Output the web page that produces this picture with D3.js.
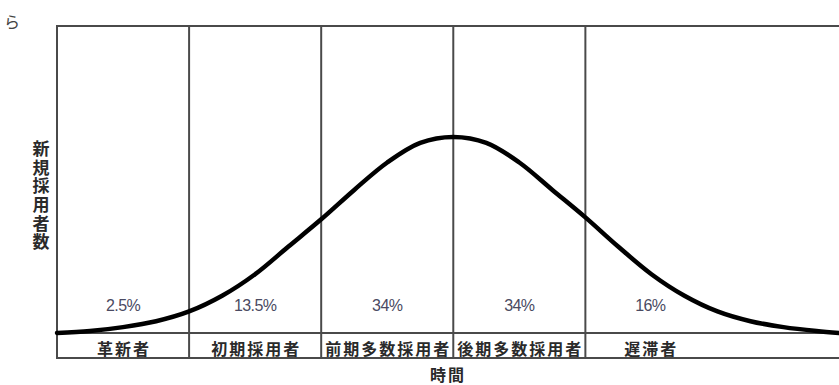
<!DOCTYPE html>
<html>
<head>
<meta charset="utf-8">
<script src="https://cdn.jsdelivr.net/npm/d3@7"></script>
<style>
  body { margin: 0; background: #fff; }
  svg { display: block; }
</style>
</head>
<body>
<script>
var w = 839;
var h = 385;

// adopter groups, left to right
var categories = ["革新者", "初期採用者", "前期多数採用者", "後期多数採用者", "遅滞者"];
var shares = ["2.5%", "13.5%", "34%", "34%", "16%"];
// group boundaries, in standard deviations from the mean
var boundaries = [-2, -1, 0, 1];

// curve: position (sd) and height (% of peak)
var curveX = [-3, -2.75, -2.5, -2.25, -2, -1.75, -1.5, -1.25, -1, -0.75, -0.5, -0.25, 0,
              0.25, 0.5, 0.75, 1, 1.25, 1.5, 1.75, 2, 2.25, 2.5, 2.75, 2.92];
var curveY = [0, 1, 3, 6, 11, 19, 30, 44, 58, 73, 87, 97, 100,
              97, 87, 73, 59, 44, 30, 19, 11, 6, 3, 1, 0];

var leftX = 57, rightX = 839, topY = 26, baseY = 333, bottomY = 358;

var xScale = d3.scaleLinear()
    .domain([-3, 2.92])
    .range([leftX, rightX]);

var yScale = d3.scaleLinear()
    .domain([0, 100])
    .range([baseY, 137]);

var svg = d3.select("body")
    .append("svg")
    .attr("width", w)
    .attr("height", h);

var frame = "#4a4a4a";

// frame lines
[topY, baseY, bottomY].forEach(function(y) {
    svg.append("line").attr("x1", leftX - 1).attr("x2", rightX).attr("y1", y).attr("y2", y)
        .attr("stroke", frame).attr("stroke-width", 2);
});
svg.append("line").attr("x1", leftX).attr("x2", leftX).attr("y1", topY - 1).attr("y2", bottomY + 1)
    .attr("stroke", frame).attr("stroke-width", 2);

svg.selectAll("line.div")
    .data(boundaries)
    .enter()
    .append("line")
    .attr("class", "div")
    .attr("x1", function(d) { return xScale(d); })
    .attr("x2", function(d) { return xScale(d); })
    .attr("y1", topY)
    .attr("y2", bottomY)
    .attr("stroke", frame)
    .attr("stroke-width", 2);

// centre of each group column
var edges = [xScale(-3)].concat(boundaries.map(function(d) { return xScale(d); })).concat([xScale(1) + 130]);
function mid(i) { return (edges[i] + edges[i + 1]) / 2; }

var pts = curveX.map(function(d, i) { return [d, curveY[i]]; });
var line = d3.line()
    .x(function(d) { return xScale(d[0]); })
    .y(function(d) { return yScale(d[1]); })
    .curve(d3.curveCatmullRom);

svg.append("path")
    .datum(pts)
    .attr("d", line)
    .attr("fill", "none")
    .attr("stroke", "#000")
    .attr("stroke-width", 4.5)
    .attr("stroke-linecap", "round");

svg.selectAll("text.share")
    .data(shares)
    .enter()
    .append("text")
    .attr("class", "share")
    .text(function(d) { return d; })
    .attr("x", function(d, i) { return mid(i); })
    .attr("y", 311)
    .attr("text-anchor", "middle")
    .attr("font-family", "Liberation Sans, Arial, sans-serif")
    .attr("font-size", "16px")
    .attr("letter-spacing", "-0.6px")
    .attr("fill", "#4a4a62");

svg.selectAll("text.cat")
    .data(categories)
    .enter()
    .append("text")
    .attr("class", "cat")
    .text(function(d) { return d; })
    .attr("x", function(d, i) { return mid(i) + 1; })
    .attr("y", 355)
    .attr("text-anchor", "middle")
    .attr("font-family", "Noto Sans CJK JP, sans-serif")
    .attr("font-size", "16px")
    .attr("letter-spacing", "2px")
    .attr("font-weight", "bold")
    .attr("fill", "#2a2a2a");

// axis titles
svg.append("text")
    .text("時間")
    .attr("x", 448)
    .attr("y", 381)
    .attr("text-anchor", "middle")
    .attr("font-family", "Noto Sans CJK JP, sans-serif")
    .attr("font-size", "16px")
    .attr("font-weight", "bold")
    .attr("letter-spacing", "2px")
    .attr("fill", "#2a2a2a");

svg.append("text")
    .text("新規採用者数")
    .attr("x", 41)
    .attr("y", 140)
    .attr("writing-mode", "tb")
    .attr("font-family", "Noto Sans CJK JP, sans-serif")
    .attr("font-size", "17px")
    .attr("font-weight", "bold")
    .attr("letter-spacing", "1.7px")
    .attr("fill", "#2a2a2a");

svg.append("text")
    .text("ら")
    .attr("x", 12)
    .attr("y", 28)
    .attr("text-anchor", "middle")
    .attr("font-family", "Noto Sans CJK JP, sans-serif")
    .attr("font-size", "16px")
    .attr("fill", "#444");
</script>
</body>
</html>
